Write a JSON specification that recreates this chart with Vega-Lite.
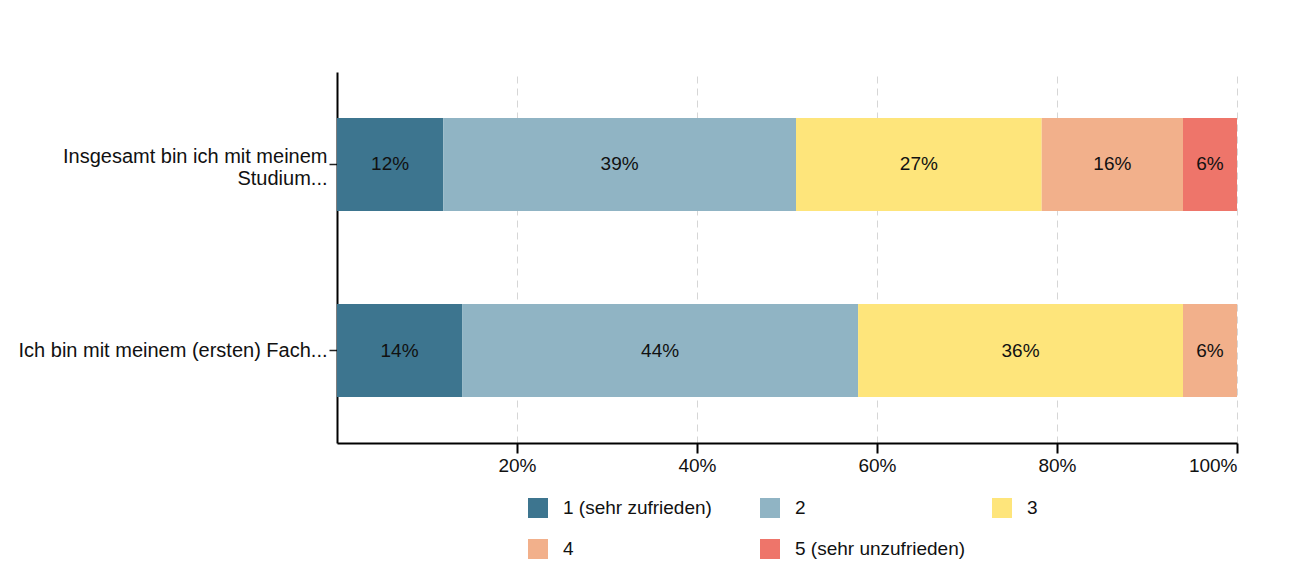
{
  "$schema": "https://vega.github.io/schema/vega-lite/v6.json",
  "autosize": {"type": "none"},
  "padding": {"left": 337, "top": 72, "right": 73, "bottom": 145},
  "width": 900,
  "height": 371,
  "background": "white",
  "config": {
    "font": "Liberation Sans",
    "view": {"stroke": null}
  },
  "data": {
    "values": [
      {"frage": "Insgesamt bin ich mit meinem\nStudium...", "antwort": "1 (sehr zufrieden)", "k": 1, "anteil": 0.118},
      {"frage": "Insgesamt bin ich mit meinem\nStudium...", "antwort": "2", "k": 2, "anteil": 0.392},
      {"frage": "Insgesamt bin ich mit meinem\nStudium...", "antwort": "3", "k": 3, "anteil": 0.273},
      {"frage": "Insgesamt bin ich mit meinem\nStudium...", "antwort": "4", "k": 4, "anteil": 0.157},
      {"frage": "Insgesamt bin ich mit meinem\nStudium...", "antwort": "5 (sehr unzufrieden)", "k": 5, "anteil": 0.06},
      {"frage": "Ich bin mit meinem (ersten) Fach...", "antwort": "1 (sehr zufrieden)", "k": 1, "anteil": 0.139},
      {"frage": "Ich bin mit meinem (ersten) Fach...", "antwort": "2", "k": 2, "anteil": 0.44},
      {"frage": "Ich bin mit meinem (ersten) Fach...", "antwort": "3", "k": 3, "anteil": 0.361},
      {"frage": "Ich bin mit meinem (ersten) Fach...", "antwort": "4", "k": 4, "anteil": 0.06}
    ]
  },
  "encoding": {
    "y": {
      "field": "frage",
      "type": "nominal",
      "sort": null,
      "title": null,
      "scale": {"paddingInner": 0.5, "paddingOuter": 0.247},
      "axis": {
        "labelExpr": "split(datum.label, '\\n')",
        "labelFontSize": 20,
        "labelColor": "#111111",
        "labelLineHeight": 22,
        "labelLimit": 400,
        "labelPadding": 2,
        "labelOffset": {"condition": {"test": "indexof(datum.value, 'Insgesamt') >= 0", "value": -7}, "value": 0},
        "tickSize": 8,
        "tickColor": "#222222",
        "tickWidth": 1.5,
        "domainColor": "#000000",
        "domainWidth": 2,
        "grid": false
      }
    }
  },
  "layer": [
    {
      "mark": {"type": "bar"},
      "encoding": {
        "x": {
          "field": "anteil",
          "type": "quantitative",
          "stack": "zero",
          "title": null,
          "scale": {"domain": [0, 1], "nice": false},
          "axis": {
            "values": [0.2, 0.4, 0.6, 0.8, 1],
            "format": ".0%",
            "labelFontSize": 19,
            "labelColor": "#111111",
            "labelPadding": 3,
            "tickSize": 10,
            "tickColor": "#000000",
            "tickWidth": 2,
            "domainColor": "#000000",
            "domainWidth": 2,
            "grid": true,
            "gridColor": "#d6d6d6",
            "gridDash": [7, 5],
            "gridWidth": 1
          }
        },
        "color": {
          "field": "antwort",
          "type": "nominal",
          "scale": {
            "domain": ["1 (sehr zufrieden)", "2", "3", "4", "5 (sehr unzufrieden)"],
            "range": ["#3d758f", "#90b4c4", "#fee57b", "#f2b08b", "#ee756a"]
          },
          "legend": {
            "title": null,
            "orient": "none",
            "legendX": 191,
            "legendY": 426,
            "direction": "horizontal",
            "columns": 3,
            "gridAlign": "all",
            "columnPadding": 26,
            "rowPadding": 21,
            "symbolType": "square",
            "symbolSize": 400,
            "symbolStrokeWidth": 0,
            "labelFontSize": 19,
            "labelColor": "#111111",
            "labelOffset": 15,
            "labelLimit": 300,
            "padding": 0
          }
        },
        "order": {"field": "k", "type": "quantitative"}
      }
    },
    {
      "mark": {"type": "text", "fontSize": 19, "color": "#111111"},
      "encoding": {
        "x": {"field": "anteil", "type": "quantitative", "stack": "zero", "bandPosition": 0.5},
        "detail": {"field": "antwort"},
        "order": {"field": "k", "type": "quantitative"},
        "text": {"field": "anteil", "type": "quantitative", "format": ".0%"}
      }
    }
  ]
}
